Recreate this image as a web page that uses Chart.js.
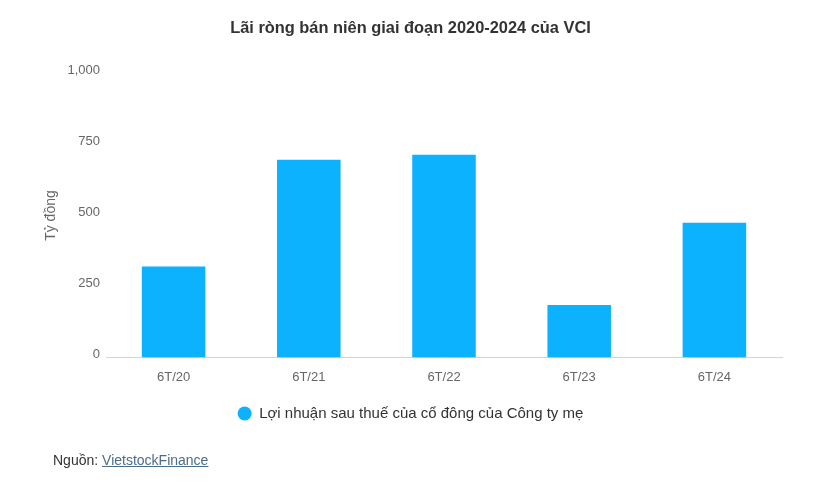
<!DOCTYPE html>
<html>
<head>
<meta charset="utf-8">
<script src="https://cdn.jsdelivr.net/npm/chart.js@4/dist/chart.umd.min.js"></script>
<style>
  body { margin: 0; background: #fff; }
  #wrap { position: relative; width: 828px; height: 497px; }
  #source { position: absolute; left: 53px; top: 452px; font: 14px "Liberation Sans", Arial, sans-serif; color: #333; }
  #source a { color: #4b6d8c; text-decoration: underline; }
</style>
</head>
<body>
<div id="wrap">
  <canvas id="myChart" width="828" height="497"></canvas>
  <div id="source">Nguồn: <a href="#">VietstockFinance</a></div>
</div>
<script>
  let categories = ['6T/20', '6T/21', '6T/22', '6T/23', '6T/24'];
  let profit = [320, 697, 714, 185, 475];
  let yTicks = [0, 250, 500, 750, 1000];

  let myChart = document.getElementById('myChart').getContext('2d');

  let vciChart = new Chart(myChart, {
    type: 'bar',
    data: {
      labels: categories,
      datasets: [{
        label: 'Lợi nhuận sau thuế của cổ đông của Công ty mẹ',
        data: profit,
        backgroundColor: '#0db2fe',
        borderWidth: 0,
        barPercentage: 0.47,
        categoryPercentage: 1
      }]
    },
    options: {
      responsive: false,
      animation: false,
      layout: {
        padding: { left: 39, right: 46, top: 0, bottom: 66 }
      },
      font: { family: '"Liberation Sans", Arial, sans-serif' },
      plugins: {
        title: {
          display: true,
          text: 'Lãi ròng bán niên giai đoạn 2020-2024 của VCI',
          color: '#333',
          font: { size: 16.4, weight: 'bold' },
          padding: { top: 19, bottom: 35 }
        },
        legend: {
          position: 'bottom',
          labels: {
            usePointStyle: true,
            pointStyle: 'circle',
            boxWidth: 10,
            boxHeight: 10,
            pointStyleWidth: 14,
            color: '#333',
            font: { size: 15 },
            padding: 14
          }
        },
        tooltip: { enabled: false }
      },
      scales: {
        x: {
          afterFit: function (scale) {
            scale.height += 3;
          },
          grid: { display: false },
          border: { color: '#ccd6eb', width: 1 },
          ticks: { color: '#666', font: { size: 13 }, padding: 4 }
        },
        y: {
          min: 0,
          max: 1000,
          afterBuildTicks: function (scale) {
            scale.ticks = yTicks.map(v => ({ value: v }));
          },
          afterFit: function (scale) {
            scale.width = 67;
          },
          grid: { display: false, drawTicks: false },
          border: { display: false },
          ticks: { color: '#666', font: { size: 13 }, padding: 6, labelOffset: -3 },
          title: {
            display: true,
            text: 'Tỷ đồng',
            color: '#666',
            font: { size: 14 },
            padding: 4
          }
        }
      }
    }
  });
</script>
</body>
</html>
